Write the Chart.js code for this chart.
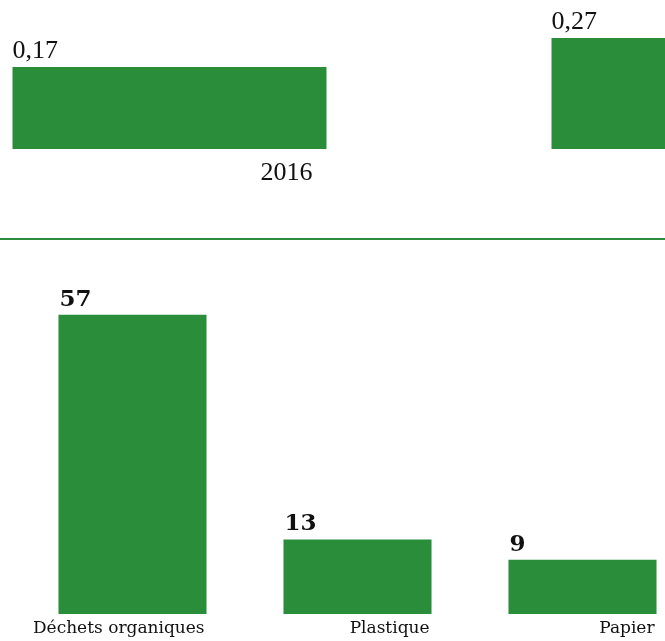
<!DOCTYPE html>
<html>
<head>
<meta charset="utf-8">
<script src="https://cdn.jsdelivr.net/npm/chart.js@4/dist/chart.umd.min.js"></script>
<style>
  html, body { margin: 0; padding: 0; background: #fff; overflow: hidden; }
  body { width: 665px; height: 641px; position: relative; }
  #topWrap { position: absolute; left: -100px; top: 0; width: 1078px; height: 200px; }
  #bottomWrap { position: absolute; left: 0; top: 250px; width: 700px; height: 391px; }
  .divider { position: absolute; left: 0; top: 238px; width: 665px; height: 2px; background: #2e8b3c; }
</style>
</head>
<body>
<div id="topWrap"><canvas id="topChart" width="1078" height="200"></canvas></div>
<div class="divider"></div>
<div id="bottomWrap"><canvas id="bottomChart" width="700" height="391"></canvas></div>
<script>
const years = ["2016", "2017"];
const yearValues = [0.17, 0.27];

const wasteTypes = ["Déchets organiques", "Plastique", "Papier"];
const wasteShares = [57, 13, 9];

const CHART = {
  bar: "#298d3a",
  text: "#111111",
  topFont: "'Liberation Serif', 'Times New Roman', serif",
  bottomFont: "'DejaVu Serif', Georgia, serif",
};

// axis floors: the bars start below zero in the original
const TOP_MIN = -0.113;
const BOTTOM_MIN = -1.62;

const frNumber = (v) => String(v).replace(".", ",");

const topLabels = {
  id: "topLabels",
  afterDatasetsDraw(chart) {
    const { ctx } = chart;
    const meta = chart.getDatasetMeta(0);
    ctx.save();
    ctx.fillStyle = CHART.text;
    ctx.font = "26px " + CHART.topFont;
    meta.data.forEach((bar, i) => {
      const half = bar.width / 2;
      ctx.textAlign = "left";
      ctx.textBaseline = "alphabetic";
      ctx.fillText(frNumber(yearValues[i]), bar.x - half, bar.y - 9);
      ctx.textAlign = "right";
      ctx.fillText(years[i], bar.x + half - 14, bar.base + 31);
    });
    ctx.restore();
  },
};

const bottomLabels = {
  id: "bottomLabels",
  afterDatasetsDraw(chart) {
    const { ctx } = chart;
    const meta = chart.getDatasetMeta(0);
    ctx.save();
    ctx.fillStyle = CHART.text;
    meta.data.forEach((bar, i) => {
      const half = bar.width / 2;
      ctx.textBaseline = "alphabetic";
      ctx.textAlign = "left";
      ctx.font = "bold 23px " + CHART.bottomFont;
      ctx.fillText(String(wasteShares[i]), bar.x - half + 1, bar.y - 9);
      ctx.textAlign = "right";
      ctx.font = "17px " + CHART.bottomFont;
      ctx.fillText(wasteTypes[i], bar.x + half - 2, bar.base + 19);
    });
    ctx.restore();
  },
};

const baseOpts = {
  responsive: false,
  animation: false,
  devicePixelRatio: 1,
  plugins: { legend: { display: false }, tooltip: { enabled: false } },
};

new Chart(document.getElementById("topChart"), {
  type: "bar",
  data: {
    labels: years,
    datasets: [{ data: yearValues, base: TOP_MIN, backgroundColor: CHART.bar, categoryPercentage: 1, barPercentage: 0.5826 }],
  },
  options: {
    ...baseOpts,
    layout: { padding: { left: 0, right: 0, top: 0, bottom: 51 } },
    scales: {
      x: { display: false },
      y: { display: false, min: TOP_MIN, max: 0.4008 },
    },
  },
  plugins: [topLabels],
});

new Chart(document.getElementById("bottomChart"), {
  type: "bar",
  data: {
    labels: wasteTypes,
    datasets: [{ data: wasteShares, base: BOTTOM_MIN, backgroundColor: CHART.bar, categoryPercentage: 1, barPercentage: 0.658 }],
  },
  options: {
    ...baseOpts,
    layout: { padding: { left: 20, right: 5, top: 0, bottom: 27 } },
    scales: {
      x: { display: false },
      y: { display: false, min: BOTTOM_MIN, max: 69.7 },
    },
  },
  plugins: [bottomLabels],
});
</script>
</body>
</html>
